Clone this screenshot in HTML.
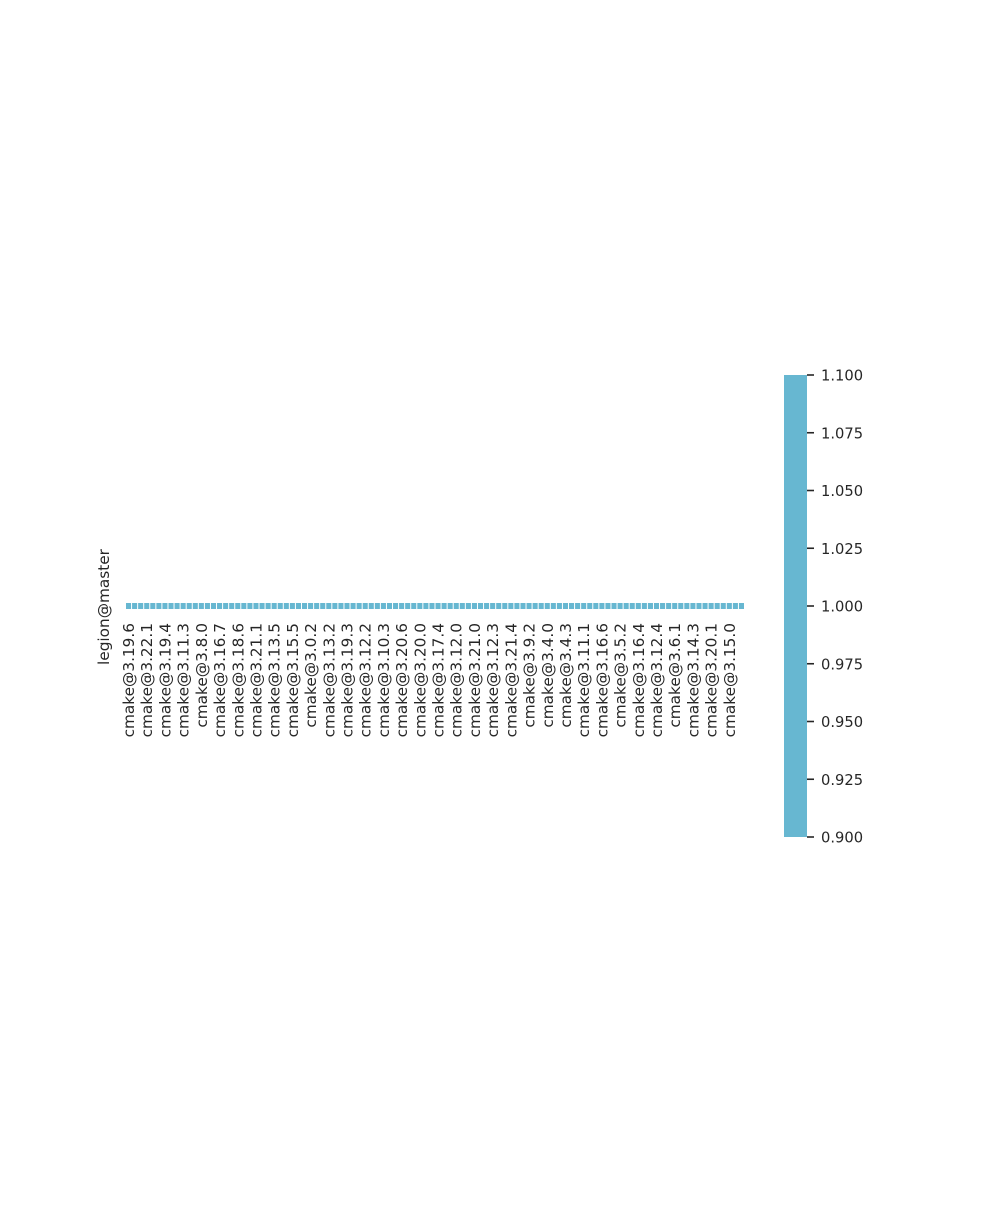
<!DOCTYPE html>
<html><head><meta charset="utf-8"><style>
html,body{margin:0;padding:0;background:#fff;}
svg text{font-family:"DejaVu Sans","Liberation Sans",sans-serif;font-size:15.3px;fill:#262626;}
svg text.cb{font-size:14.7px;}
</style></head><body>
<svg id="chart" width="1000" height="1200" xmlns="http://www.w3.org/2000/svg">
<g id="cells"></g>
<g id="xlabels"></g>
<text transform="translate(109,607) rotate(-90)" text-anchor="middle">legion@master</text>
<g id="cbar"></g>
</svg>
<script>
const xLabels = ["cmake@3.19.6","cmake@3.22.1","cmake@3.19.4","cmake@3.11.3","cmake@3.8.0","cmake@3.16.7","cmake@3.18.6","cmake@3.21.1","cmake@3.13.5","cmake@3.15.5","cmake@3.0.2","cmake@3.13.2","cmake@3.19.3","cmake@3.12.2","cmake@3.10.3","cmake@3.20.6","cmake@3.20.0","cmake@3.17.4","cmake@3.12.0","cmake@3.21.0","cmake@3.12.3","cmake@3.21.4","cmake@3.9.2","cmake@3.4.0","cmake@3.4.3","cmake@3.11.1","cmake@3.16.6","cmake@3.5.2","cmake@3.16.4","cmake@3.12.4","cmake@3.6.1","cmake@3.14.3","cmake@3.20.1","cmake@3.15.0"];
const nCells = 102;
const cellValues = new Array(nCells).fill(1);
const cbarTicks = [0.900,0.925,0.950,0.975,1.000,1.025,1.050,1.075,1.100];
const cbarMin = 0.9, cbarMax = 1.1;

const NS="http://www.w3.org/2000/svg";
const x0=126, x1=745, rowY=603, rowH=6;
const pitch=(x1-x0)/nCells;
const xs=i=>x0+i*pitch;
const color=v=>"#67b7d1";
const cells=document.getElementById('cells');
cellValues.forEach((v,i)=>{
  const r=document.createElementNS(NS,'rect');
  
  
  r.setAttribute('x',xs(i));r.setAttribute('y',rowY);
  r.setAttribute('width',pitch-1);r.setAttribute('height',rowH);
  r.setAttribute('fill',color(v));
  cells.appendChild(r);
});
const xl=document.getElementById('xlabels');
const step=nCells/xLabels.length;
xLabels.forEach((l,i)=>{
  const cx=xs(i*step)+pitch/2-0.5;
  const t=document.createElementNS(NS,'text');
  
  
  t.setAttribute('text-anchor','end');
  t.setAttribute('transform','translate('+(cx+5.5)+',623) rotate(-90)');
  t.textContent=l;
  xl.appendChild(t);
});
const cb=document.getElementById('cbar');
const cbTop=375, cbBot=837, cbX=784, cbW=23;
const cy=v=>cbBot-(v-cbarMin)/(cbarMax-cbarMin)*(cbBot-cbTop);
const bar=document.createElementNS(NS,'rect');


bar.setAttribute('x',cbX);bar.setAttribute('y',cbTop);bar.setAttribute('width',cbW);bar.setAttribute('height',cbBot-cbTop);
bar.setAttribute('fill','#67b7d1');
cb.appendChild(bar);
cbarTicks.forEach(v=>{
  const y=cy(v);
  const ln=document.createElementNS(NS,'line');
  
  
  ln.setAttribute('x1',cbX+cbW);ln.setAttribute('x2',cbX+cbW+7);
  ln.setAttribute('y1',y);ln.setAttribute('y2',y);
  ln.setAttribute('stroke','#262626');ln.setAttribute('stroke-width','1.6');
  cb.appendChild(ln);
  const t=document.createElementNS(NS,'text');
  t.setAttribute('class','cb');
  
  
  t.setAttribute('x',821);t.setAttribute('y',y+5.5);
  t.textContent=v.toFixed(3);
  cb.appendChild(t);
});
</script>
</body></html>
